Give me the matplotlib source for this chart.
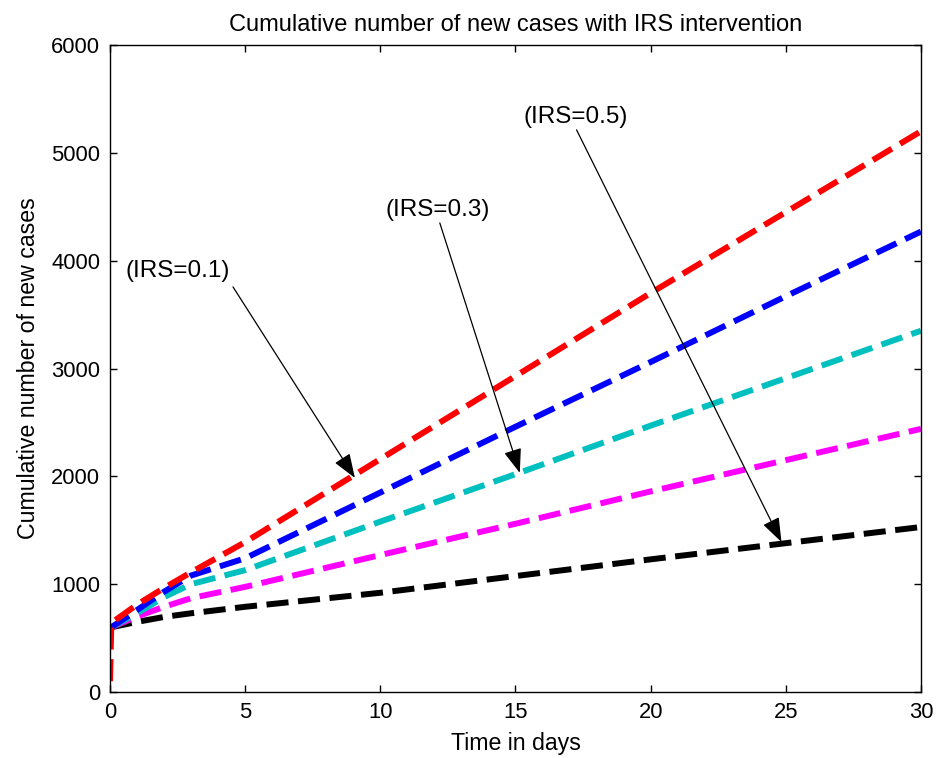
import numpy as np
import matplotlib
matplotlib.use("Agg")
import matplotlib.pyplot as plt

plt.rcParams['font.family'] = ['Liberation Sans', 'DejaVu Sans']

# time grid (days) shared by all curves
t_days = [0, 0.05, 1, 2, 3, 5, 10, 15, 20, 25, 30]

# cumulative new cases for each IRS level
cases_red = [100, 640, 810, 965, 1110, 1390, 2160, 2930, 3700, 4450, 5200]
cases_blue = [600, 600, 760, 930, 1080, 1240, 1850, 2460, 3060, 3670, 4270]
cases_cyan = [600, 600, 730, 880, 1000, 1130, 1580, 2020, 2470, 2910, 3350]
cases_magenta = [600, 600, 700, 790, 870, 975, 1270, 1560, 1860, 2150, 2440]
cases_black = [600, 600, 650, 696, 730, 790, 920, 1075, 1230, 1380, 1530]

x_ticks = [0, 5, 10, 15, 20, 25, 30]
y_ticks = [0, 1000, 2000, 3000, 4000, 5000, 6000]

# annotation labels, text anchor, arrow start, arrow tip
ann_labels = ['(IRS=0.1)', '(IRS=0.3)', '(IRS=0.5)']
ann_text_xy = [(2.51, 3900), (12.13, 4470), (17.23, 5334)]
ann_start_xy = [(4.55, 3757), (12.2, 4350), (17.26, 5213)]
ann_tip_xy = [(9.06, 1985), (15.16, 2032), (24.84, 1391)]

fig = plt.figure(figsize=(9.41, 7.58), dpi=100)
ax = fig.add_axes([0.1169, 0.0871, 0.8618, 0.8535])

series = [
    (cases_black, 'k'),
    (cases_magenta, '#ff00ff'),
    (cases_cyan, '#00bfbf'),
    (cases_blue, '#0000ff'),
    (cases_red, '#ff0000'),
]
for vals, col in series:
    ax.plot(t_days, vals, '--', color=col, lw=4.3)

ax.set_xlim(0, 30)
ax.set_ylim(0, 6000)
ax.set_xticks(x_ticks)
ax.set_yticks(y_ticks)
ax.tick_params(direction='in', top=True, right=True, length=5, labelsize=15.8, width=1)
ax.tick_params(axis='y', pad=7)
ax.tick_params(axis='x', pad=7)
for sp in ax.spines.values():
    sp.set_linewidth(1)

for lab, txy, sxy, pxy in zip(ann_labels, ann_text_xy, ann_start_xy, ann_tip_xy):
    ax.text(txy[0], txy[1], lab, ha='center', va='center', fontsize=17.5)
    ax.annotate('', xy=pxy, xytext=sxy,
                arrowprops=dict(arrowstyle='-|>,head_length=1.5,head_width=0.55',
                                color='k', lw=0.9, shrinkA=0, shrinkB=0))

ax.set_title('Cumulative number of new cases with IRS intervention', fontsize=17, pad=10)
ax.set_xlabel('Time in days', fontsize=16.7, labelpad=7)
ax.set_ylabel('Cumulative number of new cases', fontsize=16.7, labelpad=8)

fig.savefig('out.png', dpi=100)
